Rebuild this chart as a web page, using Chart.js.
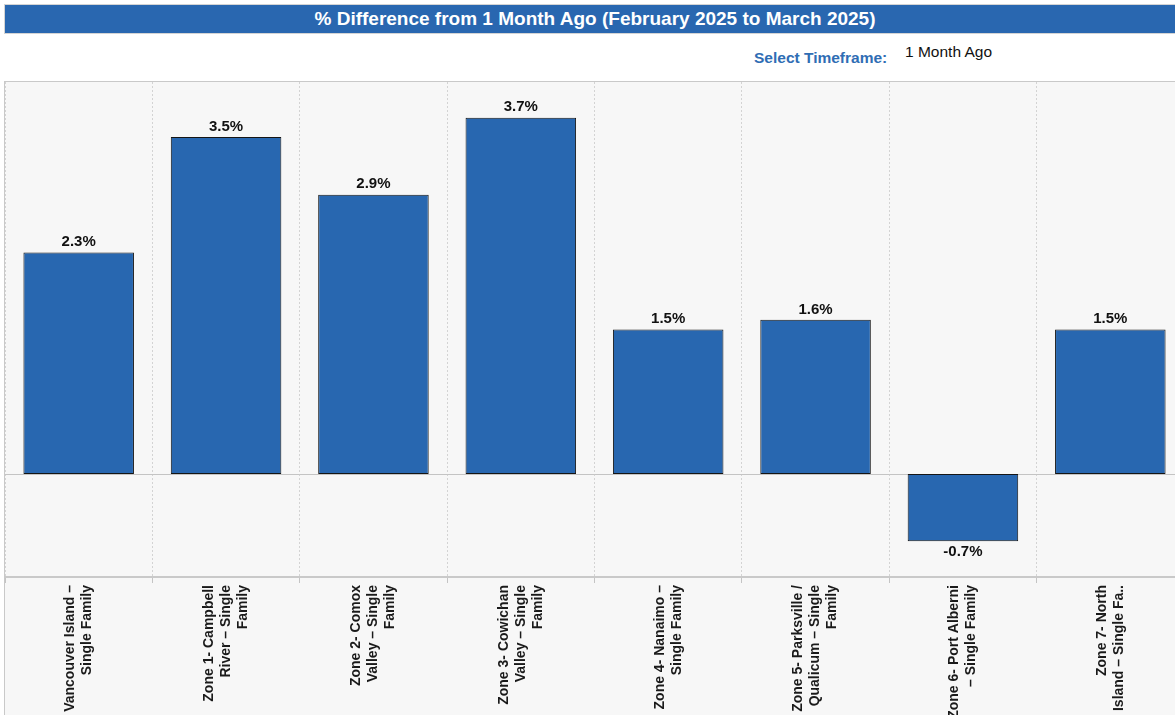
<!DOCTYPE html>
<html>
<head>
<meta charset="utf-8">
<title>% Difference from 1 Month Ago</title>
<script src="https://cdn.jsdelivr.net/npm/chart.js@4"></script>
<style>
 html, body { margin: 0; padding: 0; background: #fff; overflow: hidden; width: 1175px; height: 715px; }
 body { font-family: "Liberation Sans", Arial, sans-serif; position: relative; }
 #titleBar {
  position: absolute; left: 4px; top: 4px; width: 1190px; height: 30px;
  box-sizing: border-box; border: 1px solid #d4d4d4; background: #2967b0;
  color: #fff; font-weight: bold; font-size: 19px; line-height: 28px;
  text-align: center; padding-right: 8px;
 }
 #tfLabel { position: absolute; left: 754px; top: 49px; color: #2f6db4; font-weight: bold; font-size: 15.5px; }
 #tfValue { position: absolute; left: 905px; top: 43px; color: #111; font-size: 15.5px; }
 #pane {
  position: absolute; left: 4px; top: 81px; width: 1180px; height: 660px;
  box-sizing: border-box; border-left: 1px solid #c9c9c9; border-top: 1px solid #c9c9c9;
  background: #f7f7f7;
 }
 #chartBox { position: relative; width: 1179px; height: 659px; }
</style>
</head>
<body>
<div id="titleBar">% Difference from 1 Month Ago (February 2025 to March 2025)</div>
<div id="tfLabel">Select Timeframe:</div>
<div id="tfValue">1 Month Ago</div>
<div id="pane"><div id="chartBox"><canvas id="diffChart"></canvas></div></div>

<script>
'use strict';

// regions, one bar each (label lines as shown under the axis)
const regions = [
 ['Vancouver Island –', 'Single Family'],
 ['Zone 1- Campbell', 'River – Single', 'Family'],
 ['Zone 2- Comox', 'Valley – Single', 'Family'],
 ['Zone 3- Cowichan', 'Valley – Single', 'Family'],
 ['Zone 4- Nanaimo –', 'Single Family'],
 ['Zone 5- Parksville /', 'Qualicum – Single', 'Family'],
 ['Zone 6- Port Alberni', '– Single Family'],
 ['Zone 7- North', 'Island – Single Fa..']
]

// % change in benchmark price, Feb 2025 -> Mar 2025
const pctChange = [2.3, 3.5, 2.9, 3.7, 1.5, 1.6, -0.7, 1.5]

// value range of the axis
const yMin = -1.07
const yMax = 4.07

const barBlue = '#2867b0'
const plotHeight = 495

/**
 * Plugin drawing the zero line, the value labels and the rotated region names
 */
const barDecor = {
 id: 'barDecor',
 beforeDatasetsDraw: (chart) => {
  const { ctx, chartArea, scales } = chart
  const y0 = Math.round(scales.y.getPixelForValue(0)) + 0.5
  ctx.save()
  ctx.strokeStyle = '#c4c4c4'
  ctx.lineWidth = 1
  ctx.beginPath()
  ctx.moveTo(chartArea.left, y0)
  ctx.lineTo(chartArea.right, y0)
  ctx.stroke()
  ctx.restore()
 },
 afterDatasetsDraw: (chart) => {
  const { ctx, scales } = chart
  const bars = chart.getDatasetMeta(0).data
  ctx.save()
  ctx.font = 'bold 15px "Liberation Sans", Arial, sans-serif'
  ctx.fillStyle = '#111'
  ctx.textAlign = 'center'
  bars.forEach((bar, i) => {
   const val = pctChange[i]
   const txt = val.toFixed(1) + '%'
   if (val >= 0) {
    ctx.textBaseline = 'bottom'
    ctx.fillText(txt, bar.x, bar.y - 3)
   } else {
    ctx.textBaseline = 'top'
    ctx.fillText(txt, bar.x, bar.y + 3)
   }
  })

  // region names, rotated and centred on each category
  const lineH = 17
  const top = scales.x.top + 8
  ctx.font = 'bold 14px "Liberation Sans", Arial, sans-serif'
  ctx.fillStyle = '#1a1a1a'
  ctx.textAlign = 'right'
  ctx.textBaseline = 'middle'
  regions.forEach((lines, i) => {
   const cx = scales.x.getPixelForValue(i)
   lines.forEach((line, j) => {
    const x = cx + (j - (lines.length - 1) / 2) * lineH
    ctx.save()
    ctx.translate(x, top)
    ctx.rotate(-Math.PI / 2)
    ctx.fillText(line, 0, 0)
    ctx.restore()
   })
  })
  ctx.restore()
 }
}

const config = {
 type: 'bar',
 data: {
  labels: regions,
  datasets: [{
   label: '% Difference',
   data: pctChange,
   backgroundColor: barBlue,
   borderColor: '#151515',
   borderWidth: 1,
   borderSkipped: false,
   categoryPercentage: 1,
   barPercentage: 0.75
  }]
 },
 options: {
  responsive: true,
  maintainAspectRatio: false,
  animation: false,
  layout: { padding: 0 },
  plugins: {
   legend: { display: false },
   tooltip: { enabled: false }
  },
  scales: {
   x: {
    grid: {
     offset: true,
     color: '#d3d3d3',
     tickLength: 6,
     tickColor: '#c4c4c4',
     tickBorderDash: []
    },
    // in v4 border.dash styles the grid lines, the axis line stays solid
    border: { display: true, color: '#c9c9c9', width: 2, dash: [2, 2] },
    ticks: { display: false },
    afterFit: (scale) => { scale.height = 659 - plotHeight }
   },
   y: {
    display: false,
    min: yMin,
    max: yMax
   }
  }
 },
 plugins: [barDecor]
}

const drawChart = () => {
 new Chart(document.getElementById('diffChart'), config)
}

document.addEventListener('DOMContentLoaded', drawChart)
</script>
</body>
</html>
